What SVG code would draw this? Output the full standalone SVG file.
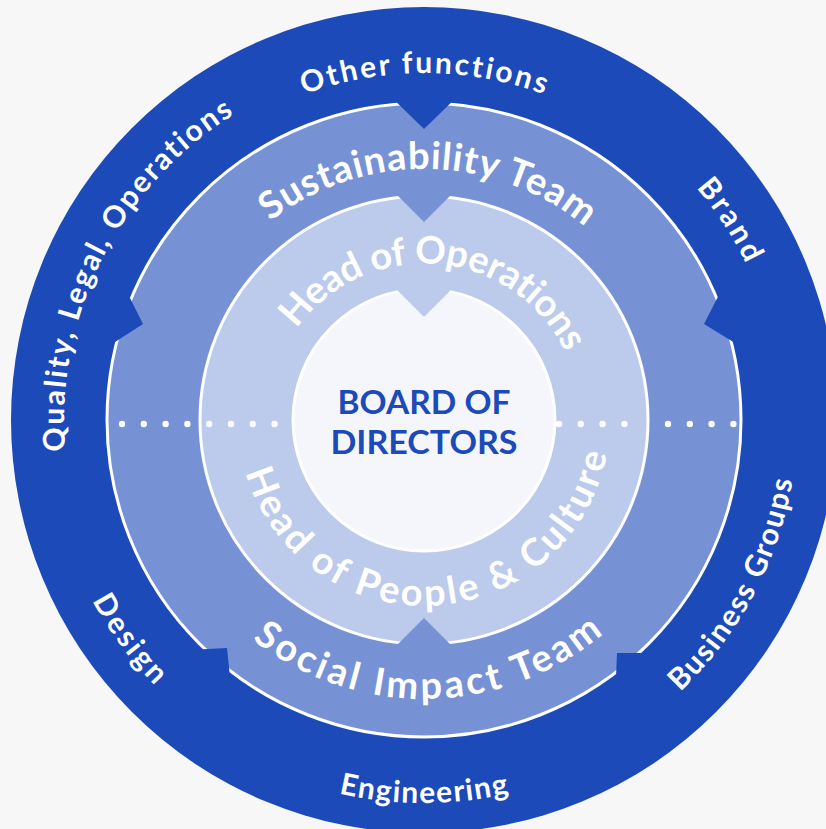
<svg xmlns="http://www.w3.org/2000/svg" width="826" height="829" viewBox="0 0 826 829">
<style>
.lbl{font-family:Lato,"Open Sans","Liberation Sans",sans-serif;font-weight:700;fill:#ffffff;font-variant-ligatures:none}
.ring{stroke:#ffffff;stroke-width:3}
.dark{fill:#1c4ab8}
.mid{fill:#7692d4}
.light{fill:#bccaeb}
.core{fill:#f4f6fc}
.dot{fill:#ffffff}
</style>
<defs>
<path id="pOther" d="M77,420 A347,347 0 0 1 771,420"/>
<path id="pSust" d="M172.04,415.6 A252,252 0 0 1 675.96,424.4"/>
<path id="pHops" d="M267.6,406.3 A157,157 0 0 1 580.4,433.7"/>
<path id="pHpc" d="M238.25,429.7 A186,186 0 0 0 609.75,410.3"/>
<path id="pSoc" d="M145.04,424.87 A279,279 0 0 0 702.96,415.13"/>
<path id="pQual" d="M262.8,741.9 A360,360 0 0 1 585.2,98.1"/>
<path id="pBrand" d="M228,120.4 A358,358 0 0 1 620,719.6"/>
<path id="pBus" d="M246.5,753.7 A378,378 0 0 0 601.5,86.3"/>
<path id="pDes" d="M198.6,116.5 A378,378 0 0 0 649.4,723.5"/>
<path id="pEng" d="M41,420 A383,383 0 0 0 807,420"/>
</defs>
<rect width="826" height="829" fill="#f7f7f7"/>
<g id="outer-ring">
<circle class="dark" cx="424" cy="420" r="413"/>
</g>
<g id="middle-ring">
<circle class="mid ring" cx="424" cy="420" r="317"/>
<polygon class="dark" points="424,129 386,92 462,92"/>
<polygon class="dark" points="143,324 123.5,285 101,351"/>
<polygon class="dark" points="704,324 726,281 748,351"/>
<polygon class="dark" points="170,651 227,648 230,677 231,692 170,692"/>
<polygon class="dark" points="660,653 617,653 616,677 615,692 660,692"/>
</g>
<g id="light-ring">
<circle class="light ring" cx="424" cy="420" r="224"/>
<polygon class="mid" points="424,222 385,183 463,183"/>
<polygon class="mid" points="424,618 381,661 467,661"/>
</g>
<g id="board">
<circle class="core ring" cx="424" cy="420" r="131"/>
<polygon class="light" points="424,317 385,278 463,278"/>
</g>
<g id="divider">
<circle class="dot" cx="122" cy="424" r="3.2"/>
<circle class="dot" cx="143.8" cy="424" r="3.2"/>
<circle class="dot" cx="165.6" cy="424" r="3.2"/>
<circle class="dot" cx="187.4" cy="424" r="3.2"/>
<circle class="dot" cx="209.2" cy="424" r="3.2"/>
<circle class="dot" cx="231" cy="424" r="3.2"/>
<circle class="dot" cx="252.8" cy="424" r="3.2"/>
<circle class="dot" cx="274.6" cy="424" r="3.2"/>
<circle class="dot" cx="559" cy="424" r="3.2"/>
<circle class="dot" cx="580.8" cy="424" r="3.2"/>
<circle class="dot" cx="602.6" cy="424" r="3.2"/>
<circle class="dot" cx="624.4" cy="424" r="3.2"/>
<circle class="dot" cx="668" cy="424" r="3.2"/>
<circle class="dot" cx="689.8" cy="424" r="3.2"/>
<circle class="dot" cx="711.6" cy="424" r="3.2"/>
<circle class="dot" cx="733.4" cy="424" r="3.2"/>
</g>
<g id="labels">
<text class="lbl" font-size="30" text-anchor="middle"><textPath href="#pOther" startOffset="50%" textLength="245" lengthAdjust="spacing">Other functions</textPath></text>
<text class="lbl" font-size="38" text-anchor="middle"><textPath href="#pSust" startOffset="50%" textLength="340" lengthAdjust="spacing">Sustainability Team</textPath></text>
<text class="lbl" font-size="38" text-anchor="middle"><textPath href="#pHops" startOffset="50%" textLength="325" lengthAdjust="spacing">Head of Operations</textPath></text>
<text class="lbl" font-size="38" text-anchor="middle"><textPath href="#pHpc" startOffset="50%" textLength="497" lengthAdjust="spacing">Head of People &amp; Culture</textPath></text>
<text class="lbl" font-size="38" text-anchor="middle"><textPath href="#pSoc" startOffset="50%" textLength="380" lengthAdjust="spacing">Social Impact Team</textPath></text>
<text class="lbl" font-size="30" text-anchor="middle"><textPath href="#pQual" startOffset="50%" textLength="396" lengthAdjust="spacing">Quality, Legal, Operations</textPath></text>
<text class="lbl" font-size="30" text-anchor="middle"><textPath href="#pBrand" startOffset="50%" textLength="91" lengthAdjust="spacing">Brand</textPath></text>
<text class="lbl" font-size="30" text-anchor="middle"><textPath href="#pBus" startOffset="50%" textLength="244" lengthAdjust="spacing">Business Groups</textPath></text>
<text class="lbl" font-size="30" text-anchor="middle"><textPath href="#pDes" startOffset="50%" textLength="106" lengthAdjust="spacing">Design</textPath></text>
<text class="lbl" font-size="30" text-anchor="middle"><textPath href="#pEng" startOffset="50%" textLength="172" lengthAdjust="spacing">Engineering</textPath></text>
<text font-family="Lato,'Open Sans','Liberation Sans',sans-serif" font-weight="700" font-size="33" fill="#1c4ab8" text-anchor="middle"><tspan x="424" y="414" textLength="173" lengthAdjust="spacingAndGlyphs">BOARD OF</tspan><tspan x="424" y="454" textLength="187" lengthAdjust="spacingAndGlyphs">DIRECTORS</tspan></text>
</g>
</svg>
